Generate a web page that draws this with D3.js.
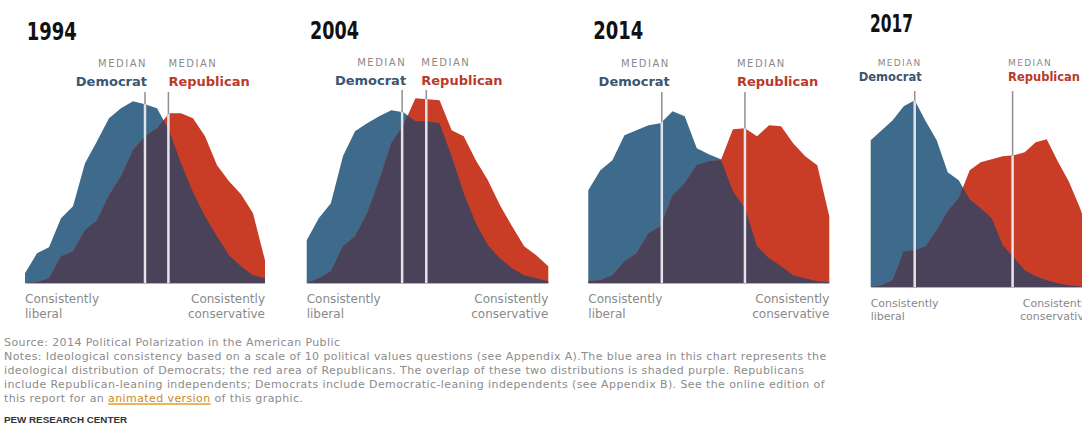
<!DOCTYPE html>
<html><head><meta charset="utf-8">
<script src="https://cdn.jsdelivr.net/npm/d3@7"></script>
<style>body{margin:0;background:#fff;}svg{display:block}</style>
</head><body><svg id="c" width="1082" height="448"></svg>
<script>
// ---------- DATA ----------
const years = ["1994", "2004", "2014", "2017"];
const scalePoints = [-10,-9,-8,-7,-6,-5,-4,-3,-2,-1,0,1,2,3,4,5,6,7,8,9,10];
// relative share of respondents at each point of the ideological consistency scale
const dem1994 = [5,15,18,32.5,38.5,60,71,82.5,87.5,91,89.5,87.5,76.5,60,45.5,33.5,23.5,14,8.5,4,2.5];
const rep1994 = [0,0.5,2.5,13.5,16,26.5,31.5,44,53.5,66.5,73.5,77.5,85,85,82.5,73.5,59,51,44.5,35,11.5];
const dem2004 = [21.5,32.5,40,63.5,76,80,83.5,86.5,85.5,81,81,80,63.5,45,30,19,12.5,7.5,4,2.5,1];
const rep2004 = [0,2.5,6,18.5,23.5,35,51.5,70,79,92.5,92,91.5,76.5,73.5,61.5,51.5,39,28.5,18.5,14,8.5];
const dem2014 = [46.5,56.5,61.5,74,76.5,79,80,86,83.5,67.5,64.5,62,46,37.5,18.5,12.5,8.5,4,2.5,1,0.5];
const rep2014 = [1,1.5,4,11,15,25,28.5,44,50,59,61,61.5,77,77.5,73.5,79,78.5,70,63.5,59,33.5];
const dem2017 = [73.5,78.5,83.5,90.5,93.5,83,73.5,57.5,53.5,44,39.5,34.5,21,15,8.5,5.5,3.5,2,1,0.5,0];
const rep2017 = [0,1,3.5,18,18.5,20.5,28.5,38,44.5,58.5,62.5,64,65.5,66,67.5,72.5,74,63,53,40,25];
const demSeries = [dem1994, dem2004, dem2014, dem2017];
const repSeries = [rep1994, rep2004, rep2014, rep2017];
const demMedians = [0, -2.1, -3.9, -6.0];
const repMedians = [1.95, -0.1, 3.0, 2.9];
const medianWord = "MEDIAN";
const partyNames = ["Democrat", "Republican"];
const leftEnd = ["Consistently", "liberal"];
const rightEnd = ["Consistently", "conservative"];
const sourceLine = "Source: 2014 Political Polarization in the American Public";
const notesLines = [
  "Notes: Ideological consistency based on a scale of 10 political values questions (see Appendix A).The blue area in this chart represents the",
  "ideological distribution of Democrats; the red area of Republicans. The overlap of these two distributions is shaded purple. Republicans",
  "include Republican-leaning independents; Democrats include Democratic-leaning independents (see Appendix B). See the online edition of"
];
const lastNote = ["this report for an ", "animated version", " of this graphic."];
const credit = "PEW RESEARCH CENTER";

// ---------- LAYOUT ----------
const layout = [
  {x0:25,    x1:265,    base:283.3, tx:26.7,  ty:40,   ts:25, tw:50, my:66.7, py:86,   ms:10, ps:13,   top:92, ls:12, l1:303.3, l2:317.5, dOff:2, rOff:0},
  {x0:306.7, x1:548.3,  base:283.3, tx:310,   ty:39.3, ts:25, tw:49, my:66,   py:85.3, ms:10, ps:13,   top:90, ls:12, l1:303.3, l2:317.5, dOff:4, rOff:-5},
  {x0:588.3, x1:829.3,  base:283.3, tx:593.3, ty:39.3, ts:25, tw:50, my:66.7, py:86,   ms:10, ps:13,   top:92, ls:12, l1:303.3, l2:317.5, dOff:8, rOff:-8},
  {x0:870.7, x1:1090.7, base:287.3, tx:870,   ty:31.7, ts:25, tw:43, my:65.7, py:81,   ms:9,  ps:11.5, top:91, ls:11, l1:306.5, l2:320,   dOff:7, rOff:-4.5}
];
const C = {blue:"#3e6a8b", red:"#c93d27", purple:"#4a4258", demText:"#3a5670", repText:"#b83a2a",
           median:"#8f8f8f", gray:"#8a8a8a", title:"#111"};
const sans = "'DejaVu Sans', sans-serif";

const svg = d3.select("#c");

years.forEach((yr, k) => {
  const L = layout[k];
  const x = d3.scaleLinear().domain([-10, 10]).range([L.x0, L.x1]);
  const y = d3.scaleLinear().domain([0, 100]).range([L.base, L.base - 200]);
  const area = d3.area().x((d, i) => x(scalePoints[i])).y0(L.base).y1(d => y(d));
  const g = svg.append("g");
  const dem = demSeries[k], rep = repSeries[k];
  const demPath = area(dem), repPath = area(rep);

  const defs = g.append("defs");
  defs.append("clipPath").attr("id", "dclip" + k).append("path").attr("d", demPath);
  const uc = defs.append("clipPath").attr("id", "uclip" + k);
  uc.append("path").attr("d", demPath);
  uc.append("path").attr("d", repPath);

  g.append("path").attr("d", demPath).attr("fill", C.blue);
  g.append("path").attr("d", repPath).attr("fill", C.red);
  g.append("path").attr("d", repPath).attr("fill", C.purple).attr("clip-path", `url(#dclip${k})`);

  // title (condensed bold)
  g.append("text").attr("x", L.tx).attr("y", L.ty).text(yr)
    .attr("font-family", "'DejaVu Sans', sans-serif")
    .attr("font-weight", "bold").attr("font-size", L.ts).attr("fill", C.title)
    .attr("textLength", L.tw).attr("lengthAdjust", "spacingAndGlyphs");

  // medians
  [[demMedians[k], L.dOff, "end", partyNames[0], C.demText],
   [repMedians[k], L.rOff, "start", partyNames[1], C.repText]].forEach(([m, off, anchor, name, col]) => {
    const mx = x(m);
    g.append("line").attr("x1", mx).attr("x2", mx).attr("y1", L.top).attr("y2", L.base)
      .attr("stroke", C.median).attr("stroke-width", 1.5);
    g.append("line").attr("x1", mx).attr("x2", mx).attr("y1", L.top).attr("y2", L.base)
      .attr("stroke", "#e4e3ea").attr("stroke-width", 2.5).attr("clip-path", `url(#uclip${k})`);
    g.append("text").attr("x", mx + off).attr("y", L.my).attr("text-anchor", anchor)
      .attr("font-family", sans).attr("font-size", L.ms).attr("letter-spacing", L.ms * 0.15)
      .attr("fill", "#8a8a8a").text(medianWord);
    g.append("text").attr("x", mx + off).attr("y", L.py).attr("text-anchor", anchor)
      .attr("font-family", sans).attr("font-weight", "bold").attr("font-size", L.ps)
      .attr("fill", col).text(name);
  });

  // end labels
  [[leftEnd, L.x0, "start"], [rightEnd, L.x1, "end"]].forEach(([lines, px, anchor]) => {
    lines.forEach((t, j) => {
      g.append("text").attr("x", px).attr("y", j ? L.l2 : L.l1).attr("text-anchor", anchor)
        .attr("font-family", sans).attr("font-size", L.ls).attr("fill", "#8a8a8a").text(t);
    });
  });
});

// footer
const fs = 11, fx = 4, fy0 = 346, lh = 14;
const foot = svg.append("g").attr("font-family", sans).attr("font-size", fs)
  .attr("letter-spacing", 0.4).attr("fill", "#8c8c8c");
foot.append("text").attr("x", fx).attr("y", fy0).text(sourceLine);
notesLines.forEach((t, i) => foot.append("text").attr("x", fx).attr("y", fy0 + (i + 1) * lh).text(t));
const lastY = fy0 + 4 * lh;
const lt = foot.append("text").attr("x", fx).attr("y", lastY);
lt.append("tspan").text(lastNote[0]);
lt.append("tspan").text(lastNote[1]).attr("fill", "#c98a1e");
lt.append("tspan").text(lastNote[2]);
const n0 = lastNote[0].length, n1 = lastNote[1].length;
const ulStart = lt.node().getStartPositionOfChar(n0).x;
const ulEnd = lt.node().getEndPositionOfChar(n0 + n1 - 1).x;
foot.insert("line", ":first-child").attr("x1", ulStart).attr("x2", ulEnd)
  .attr("y1", lastY + 2).attr("y2", lastY + 2).attr("stroke", "#e9b65a").attr("stroke-width", 2);
svg.append("text").attr("x", fx).attr("y", 423).text(credit)
  .attr("font-family", "'Liberation Sans', Arial, sans-serif").attr("font-weight", "bold")
  .attr("font-size", 9.8).attr("fill", "#333");
</script>
</body></html>
